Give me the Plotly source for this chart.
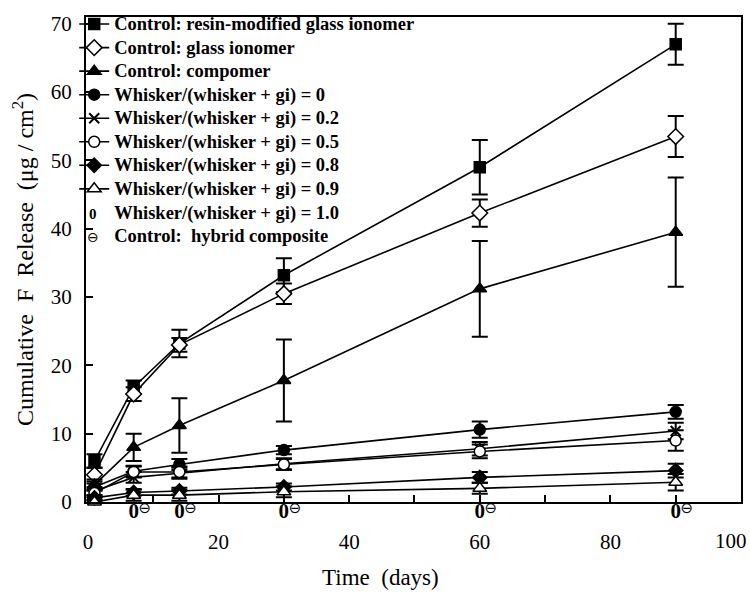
import plotly.graph_objects as go

days = [1, 7, 14, 30, 60, 90]
days_zero = [7, 14, 30, 60, 90]

rmgi = [6.0, 16.8, 23.2, 33.2, 49.0, 67.0]
rmgi_err = [1.0, 1.0, 2.0, 2.5, 4.0, 3.0]
gi = [4.0, 15.8, 23.0, 30.5, 42.3, 53.5]
gi_err = [1.0, 1.0, 1.0, 1.5, 2.0, 3.0]
comp = [2.5, 8.0, 11.2, 17.8, 31.2, 39.5]
comp_err = [0.8, 2.0, 4.0, 6.0, 7.0, 8.0]
w00 = [2.2, 4.5, 5.5, 7.6, 10.6, 13.2]
w00_err = [0.5, 0.8, 0.8, 0.6, 1.2, 1.0]
w02 = [1.6, 3.6, 4.2, 5.6, 7.8, 10.4]
w02_err = [0.6, 0.8, 0.8, 0.8, 1.0, 1.2]
w05 = [1.3, 4.4, 4.4, 5.5, 7.4, 9.0]
w05_err = [0.6, 0.8, 0.8, 0.8, 1.0, 1.5]
w08 = [0.6, 1.4, 1.6, 2.2, 3.6, 4.6]
w08_err = [0.4, 0.5, 0.5, 0.5, 0.8, 1.0]
w09 = [0.0, 1.0, 1.0, 1.5, 2.0, 2.9]
w09_err = [0.3, 0.8, 0.8, 0.8, 0.8, 1.2]
w10 = [0, 0, 0, 0, 0]
hybrid = [0, 0, 0, 0, 0]

names = [
    "Control: resin-modified glass ionomer",
    "Control: glass ionomer",
    "Control: compomer",
    "Whisker/(whisker + gi) = 0",
    "Whisker/(whisker + gi) = 0.2",
    "Whisker/(whisker + gi) = 0.5",
    "Whisker/(whisker + gi) = 0.8",
    "Whisker/(whisker + gi) = 0.9",
    "Whisker/(whisker + gi) = 1.0",
    "Control:  hybrid composite",
]

series = [
    (rmgi, rmgi_err, "square", "black", 11),
    (gi, gi_err, "diamond", "white", 12),
    (comp, comp_err, "triangle-up", "black", 12),
    (w00, w00_err, "circle", "black", 11),
    (w02, w02_err, "x-thin", "black", 10),
    (w05, w05_err, "circle", "white", 11),
    (w08, w08_err, "diamond", "black", 11),
    (w09, w09_err, "triangle-up", "white", 12),
]

SERIF = "Liberation Serif"


def legend_name(s):
    return f'<span style="font-size:18.5px">{s}</span>'


fig = go.Figure()
for i, (vals, err, sym, fill, size) in enumerate(series):
    fig.add_trace(go.Scatter(
        x=days, y=vals, name=legend_name(names[i]), legendgroup=f"g{i}",
        mode="lines+markers",
        line=dict(color="black", width=1.6),
        marker=dict(symbol=sym, color=fill, size=size,
                    line=dict(color="black", width=2 if sym == "x-thin" else 1.5)),
        error_y=dict(type="data", array=err, color="black", thickness=2, width=8),
        cliponaxis=False,
    ))

# whisker = 1.0 and hybrid composite: glyphs drawn just under the zero line
fig.add_trace(go.Scatter(
    x=days_zero, y=w10, showlegend=False,
    mode="text", text=["<b>0</b>"] * len(days_zero), textposition="bottom center",
    textfont=dict(family=SERIF, size=21, color="black"),
    cliponaxis=False,
))
fig.add_trace(go.Scatter(
    x=days_zero, y=hybrid, showlegend=False,
    mode="text", text=[" ⊖"] * len(days_zero), textposition="bottom right",
    textfont=dict(family="DejaVu Sans", size=15, color="black"),
    cliponaxis=False,
))
# legend entries for those two series
for j in (8, 9):
    fig.add_trace(go.Scatter(
        x=[None], y=[None], name=legend_name(names[j]), legendgroup=f"g{j}",
        mode="markers", marker=dict(color="rgba(0,0,0,0)", size=1),
    ))

axis_common = dict(
    showline=True, linecolor="black", linewidth=2, mirror=True,
    ticks="inside", tickcolor="black", tickwidth=1.5, ticklen=7,
    showgrid=False, zeroline=False,
    tickfont=dict(family=SERIF, size=21, color="black"),
)

fig.update_xaxes(
    range=[-0.3, 100], tickvals=[0, 20, 40, 60, 80], ticktext=["0", "20", "40", "60", "80"],
    minor=dict(dtick=10, ticks="inside", ticklen=7, tickcolor="black", tickwidth=1.5),
    ticklabelstandoff=20,
    **axis_common,
)
fig.update_yaxes(
    range=[0, 71], dtick=10, tick0=0,
    ticklabelstandoff=8,
    title_text="Cumulative  F  Release  (μg / cm<sup>2</sup>)", title_standoff=10,
    title_font=dict(family=SERIF, size=24, color="black"),
    **axis_common,
)

fig.add_annotation(x=100, y=0, xref="x", yref="y", text="100", showarrow=False,
                   xanchor="center", yanchor="top", xshift=-10, yshift=-25,
                   font=dict(family=SERIF, size=21, color="black"))
fig.add_annotation(x=0.449, y=-0.155, xref="paper", yref="paper", text="Time  (days)",
                   showarrow=False, xanchor="center", yanchor="middle",
                   font=dict(family=SERIF, size=23, color="black"))
# legend glyphs for the two glyph-marked series
fig.add_annotation(x=0.0107, y=0.594, xref="paper", yref="paper", text="<b>0</b>",
                   showarrow=False, xanchor="center", yanchor="middle",
                   font=dict(family=SERIF, size=15, color="black"))
fig.add_annotation(x=0.0107, y=0.546, xref="paper", yref="paper", text="⊖",
                   showarrow=False, xanchor="center", yanchor="middle",
                   font=dict(family="DejaVu Sans", size=14, color="black"))

fig.update_layout(
    width=750, height=597,
    margin=dict(l=86, r=7, t=12, b=95),
    paper_bgcolor="white", plot_bgcolor="white",
    showlegend=True,
    legend=dict(x=-0.018, y=1.02, xanchor="left", yanchor="top",
                bgcolor="rgba(0,0,0,0)", borderwidth=0,
                font=dict(family=SERIF, size=15.8, color="black", weight="bold"),
                tracegroupgap=0, itemwidth=30),
)

fig.write_html("out.html")
